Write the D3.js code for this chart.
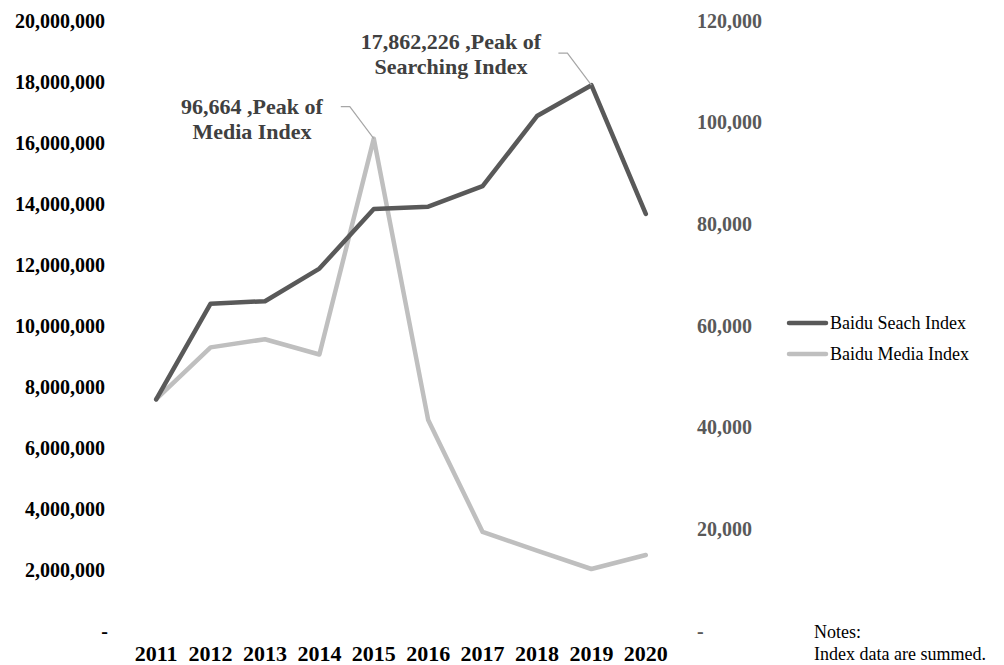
<!DOCTYPE html>
<html>
<head>
<meta charset="utf-8">
<script src="https://cdn.jsdelivr.net/npm/d3@7"></script>
<style>
  html, body { margin: 0; padding: 0; background: #fff; }
  svg { display: block; font-family: "Liberation Serif", "Times New Roman", serif; }
  .axis text { font-family: "Liberation Serif", "Times New Roman", serif; font-weight: bold; font-size: 20px; }
  .axis--x text { font-size: 22px; fill: #000; }
  .axis--left text { fill: #000; }
  .axis--right text { fill: #595959; }
  .note-label { font-weight: bold; font-size: 22px; fill: #404040; }
  .legend text, .notes text { font-size: 18px; fill: #000; }
</style>
</head>
<body>
<div id="chart"></div>
<script>
// Data
const years = ['2011', '2012', '2013', '2014', '2015', '2016', '2017', '2018', '2019', '2020'];
const searchIndex = [7560000, 10700000, 10780000, 11850000, 13800000, 13880000, 14550000, 16850000, 17862226, 13640000];
const mediaIndex = [45400, 55600, 57200, 54200, 96664, 41300, 19300, 15600, 12000, 14750];
const leftTicks = [0, 2000000, 4000000, 6000000, 8000000, 10000000, 12000000, 14000000, 16000000, 18000000, 20000000];
const rightTicks = [0, 20000, 40000, 60000, 80000, 100000, 120000];
const seriesNames = ['Baidu Seach Index', 'Baidu Media Index'];
const noteLines = ['Notes:', 'Index data are summed.'];

const W = 1004, H = 665;
const PLOT = { left: 129, right: 673, top: 20, bottom: 630 };
const SEARCH_COLOR = '#595959';
const MEDIA_COLOR = '#bfbfbf';

const svg = d3.select('#chart').append('svg')
  .attr('width', W)
  .attr('height', H);

const x = d3.scaleBand().domain(years).range([PLOT.left, PLOT.right]);
const xc = d => x(d) + x.bandwidth() / 2;
const yLeft = d3.scaleLinear().domain([0, 20000000]).range([PLOT.bottom, PLOT.top]);
const yRight = d3.scaleLinear().domain([0, 120000]).range([PLOT.bottom, PLOT.top]);

const fmt = d3.format(',');
const acct = v => v === 0 ? '-' : fmt(v);

// Axes
svg.append('g').attr('class', 'axis axis--left')
  .attr('transform', 'translate(105,0)')
  .call(d3.axisLeft(yLeft).tickValues(leftTicks).tickFormat(acct).tickSize(0).tickPadding(0))
  .call(ax => ax.select('.domain').remove())
  .call(ax => ax.selectAll('text').attr('dy', '0.35em').attr('dx', d => d === 0 ? 3 : 0));

svg.append('g').attr('class', 'axis axis--right')
  .attr('transform', 'translate(697,0)')
  .call(d3.axisRight(yRight).tickValues(rightTicks).tickFormat(acct).tickSize(0).tickPadding(0))
  .call(ax => ax.select('.domain').remove())
  .call(ax => ax.selectAll('text').attr('dy', '0.35em'));

svg.append('g').attr('class', 'axis axis--x')
  .attr('transform', 'translate(0,646)')
  .call(d3.axisBottom(x).tickSize(0).tickPadding(0))
  .call(ax => ax.select('.domain').remove())
  .call(ax => ax.selectAll('text').attr('dy', '0.7em'));

// Lines
const searchLine = d3.line().x((d, i) => xc(years[i])).y(d => yLeft(d));
const mediaLine = d3.line().x((d, i) => xc(years[i])).y(d => yRight(d));

svg.append('path')
  .datum(mediaIndex)
  .attr('d', mediaLine)
  .attr('fill', 'none')
  .attr('stroke', MEDIA_COLOR)
  .attr('stroke-width', 4.5)
  .attr('stroke-linejoin', 'round')
  .attr('stroke-linecap', 'round');

svg.append('path')
  .datum(searchIndex)
  .attr('d', searchLine)
  .attr('fill', 'none')
  .attr('stroke', SEARCH_COLOR)
  .attr('stroke-width', 4.5)
  .attr('stroke-linejoin', 'round')
  .attr('stroke-linecap', 'round');

// Peak callouts
function callout(px, py, lines, cx, baseY) {
  const leader = d3.line()([[px, py], [px - 24, py - 32], [px - 33, py - 32]]);
  svg.append('path')
    .attr('d', leader)
    .attr('fill', 'none')
    .attr('stroke', '#a6a6a6')
    .attr('stroke-width', 1.2);
  const t = svg.append('text')
    .attr('class', 'note-label')
    .attr('text-anchor', 'middle');
  lines.forEach((ln, i) => {
    t.append('tspan').attr('x', cx).attr('y', baseY + i * 25).text(ln);
  });
}

const mediaPeak = d3.maxIndex(mediaIndex);
const searchPeak = d3.maxIndex(searchIndex);
callout(xc(years[mediaPeak]), yRight(mediaIndex[mediaPeak]),
  [fmt(mediaIndex[mediaPeak]) + ' ,Peak of', 'Media Index'], 252, 114);
callout(xc(years[searchPeak]), yLeft(searchIndex[searchPeak]),
  [fmt(searchIndex[searchPeak]) + ' ,Peak of', 'Searching Index'], 451, 49);

// Legend
const legend = svg.append('g').attr('class', 'legend');
[SEARCH_COLOR, MEDIA_COLOR].forEach((c, i) => {
  const ly = 323 + i * 31;
  legend.append('line')
    .attr('x1', 789).attr('x2', 826)
    .attr('y1', ly).attr('y2', ly)
    .attr('stroke', c)
    .attr('stroke-width', 4.5)
    .attr('stroke-linecap', 'round');
  legend.append('text')
    .attr('x', 830).attr('y', ly + 6)
    .text(seriesNames[i]);
});

// Notes
const notes = svg.append('g').attr('class', 'notes');
noteLines.forEach((ln, i) => {
  notes.append('text').attr('x', 814).attr('y', 638 + i * 22).text(ln);
});
</script>
</body>
</html>
